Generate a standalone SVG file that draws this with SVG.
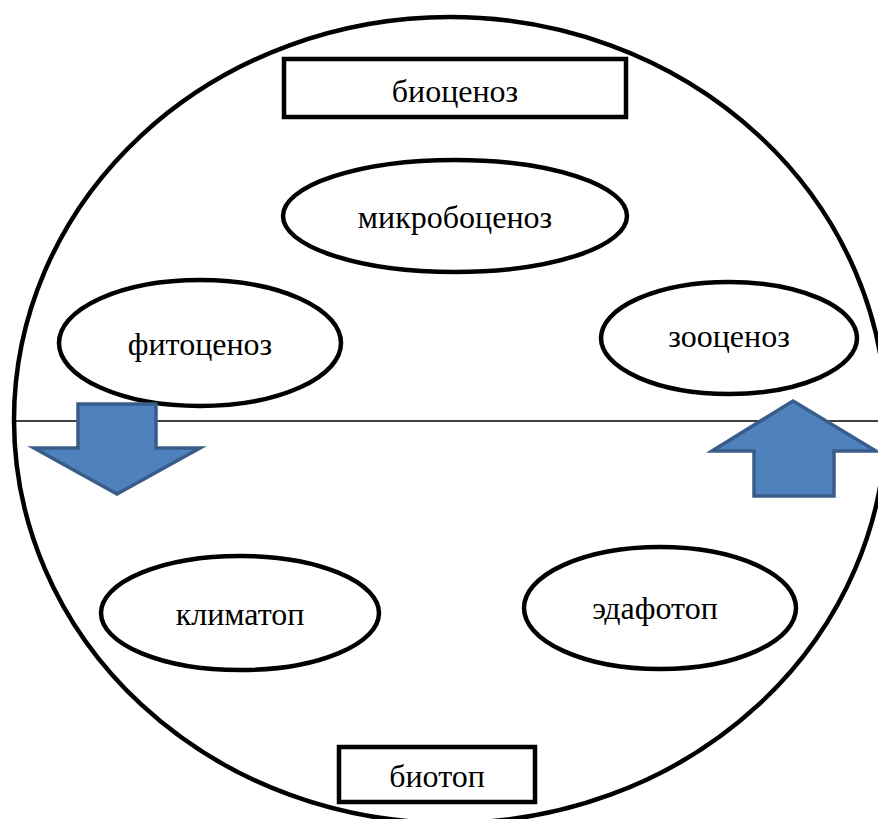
<svg xmlns="http://www.w3.org/2000/svg" width="878" height="819" viewBox="0 0 878 819">
<style>
.o{fill:none;stroke:#000;stroke-width:4.5}
.n{fill:#fff;stroke:#000;stroke-width:4.5}
.t{font-family:"Liberation Serif","Times New Roman",serif;font-size:32px;fill:#000;text-anchor:middle;dominant-baseline:central}
.a{fill:#4f81bd;stroke:#385d8a;stroke-width:3.5;stroke-linejoin:miter}
</style>
<rect width="878" height="819" fill="#fff"/>
<g id="frame">
<ellipse class="o" cx="450" cy="420" rx="436" ry="403"/>
<line x1="15" y1="421" x2="878" y2="421" stroke="#000" stroke-width="1.5"/>
</g>
<g id="biocenoz">
<rect class="n" x="284" y="59" width="342" height="58"/>
<text class="t" x="455" y="91">биоценоз</text>
</g>
<g id="mikrobocenoz">
<ellipse class="n" cx="455" cy="216" rx="172" ry="56"/>
<text class="t" x="455" y="217">микробоценоз</text>
</g>
<g id="fitocenoz">
<ellipse class="n" cx="200" cy="343" rx="141" ry="63"/>
<text class="t" x="200" y="344">фитоценоз</text>
</g>
<g id="zoocenoz">
<ellipse class="n" cx="729" cy="338" rx="128" ry="56"/>
<text class="t" x="729" y="336">зооценоз</text>
</g>
<g id="klimatop">
<ellipse class="n" cx="240" cy="613" rx="139" ry="57"/>
<text class="t" x="240" y="614">климатоп</text>
</g>
<g id="edafotop">
<ellipse class="n" cx="660" cy="608" rx="136" ry="61"/>
<text class="t" x="655" y="608">эдафотоп</text>
</g>
<g id="biotop">
<rect class="n" x="339" y="747" width="196" height="55"/>
<text class="t" x="437" y="776">биотоп</text>
</g>
<g id="connectors">
<polygon class="a" points="78,404 156,404 156,448 200,448 117,494 34,448 78,448"/>
<polygon class="a" points="793,401 876,451 834,451 834,496 754,496 754,451 712,451"/>
</g>
</svg>
